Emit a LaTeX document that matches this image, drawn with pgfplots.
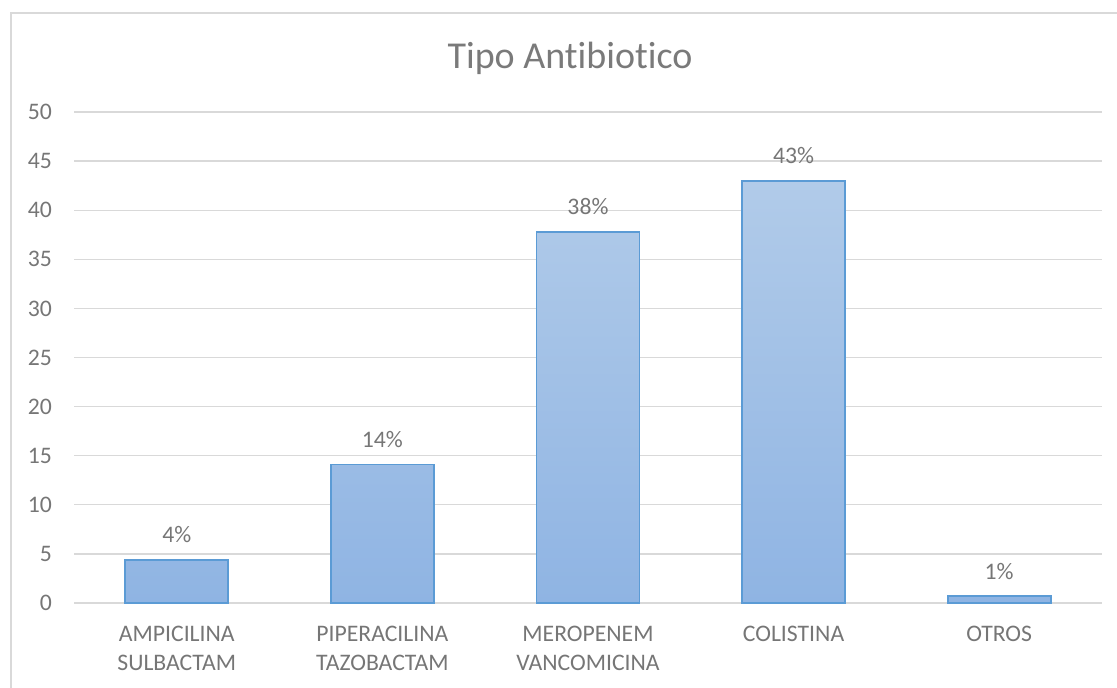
\documentclass[border=0pt]{standalone}
\usepackage{fontspec}
\setmainfont{Carlito}[Ligatures={NoCommon}]
\usepackage{pgfplots}
\pgfplotsset{compat=1.18}

\definecolor{txtgray}{HTML}{767676}
\definecolor{titlegray}{HTML}{7A7A7A}
\definecolor{gridgray}{HTML}{D9D9D9}
\definecolor{baredge}{HTML}{5B9BD5}
\definecolor{bartop}{HTML}{B1CBE9}
\definecolor{barbot}{HTML}{8FB4E3}

\begin{document}
\begin{tikzpicture}
\useasboundingbox (0,0) rectangle (1117bp,688bp);
% chart frame (cut off on the right and at the bottom)
\draw[gridgray, line width=1.5bp] (11bp,0) -- (11bp,675bp) -- (1117bp,675bp);

\node[anchor=base, text=titlegray, font=\fontsize{38bp}{44bp}\selectfont]
  at (570bp,619bp) {Tipo Antibiotico};

\begin{axis}[
  at={(74bp,85bp)}, anchor=south west,
  scale only axis,
  width=1028bp, height=491bp,
  xmin=-0.5, xmax=4.5,
  ymin=0, ymax=50,
  ytick={0,5,...,50},
  xtick=data,
  xticklabels={{AMPICILINA\\SULBACTAM},{PIPERACILINA\\TAZOBACTAM},{MEROPENEM\\VANCOMICINA},{COLISTINA},{OTROS}},
  axis line style={draw=none},
  major tick length=0pt,
  ymajorgrids,
  grid style={gridgray, line width=1.3bp},
  tick label style={text=txtgray, font=\fontsize{23.7bp}{29bp}\selectfont},
  /pgf/number format/assume math mode=true,
  yticklabel style={anchor=east, inner sep=0pt, xshift=-22bp},
  xticklabel style={align=center, anchor=north, inner sep=0pt, yshift=-23bp},
  clip=false,
]
\addplot[
  ybar, bar width=103bp,
  draw=baredge, line width=1.8bp,
  top color=bartop, bottom color=barbot,
  point meta=explicit symbolic,
  nodes near coords={\pgfplotspointmeta},
  every node near coord/.style={anchor=base, inner sep=0pt, yshift=17bp,
    text=txtgray, font=\fontsize{23.7bp}{29bp}\selectfont},
] coordinates {
  (0,4.4) [4\%]
  (1,14.1) [14\%]
  (2,37.8) [38\%]
  (3,43.0) [43\%]
  (4,0.7) [1\%]
};
\end{axis}
\end{tikzpicture}
\end{document}
